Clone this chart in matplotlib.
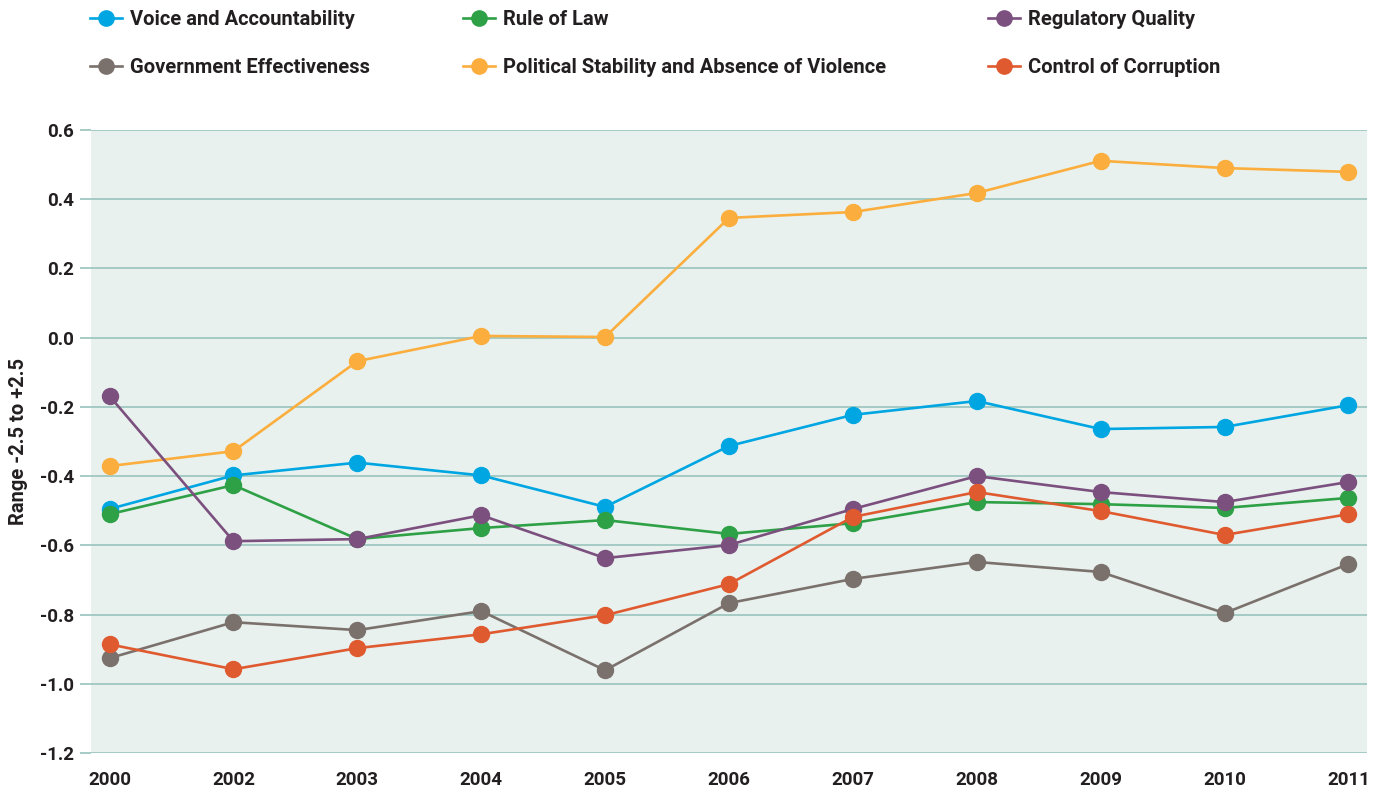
import matplotlib
matplotlib.use('Agg')
import matplotlib.pyplot as plt
from matplotlib.lines import Line2D

years = ['2000', '2002', '2003', '2004', '2005', '2006', '2007', '2008', '2009', '2010', '2011']

voice = [-0.495, -0.398, -0.361, -0.398, -0.489, -0.313, -0.223, -0.183, -0.264, -0.258, -0.195]
rule_of_law = [-0.510, -0.426, -0.582, -0.550, -0.527, -0.567, -0.536, -0.475, -0.481, -0.492, -0.463]
regulatory = [-0.169, -0.588, -0.582, -0.513, -0.637, -0.599, -0.495, -0.400, -0.446, -0.475, -0.417]
government = [-0.926, -0.822, -0.845, -0.790, -0.961, -0.767, -0.697, -0.648, -0.677, -0.796, -0.654]
political = [-0.371, -0.328, -0.068, 0.005, 0.002, 0.346, 0.363, 0.418, 0.511, 0.490, 0.479]
corruption = [-0.886, -0.958, -0.897, -0.857, -0.802, -0.712, -0.518, -0.446, -0.501, -0.570, -0.510]

series = [
    ('Voice and Accountability', voice, '#00a6e2'),
    ('Government Effectiveness', government, '#7b716c'),
    ('Rule of Law', rule_of_law, '#2ea046'),
    ('Political Stability and Absence of Violence', political, '#fbae3d'),
    ('Regulatory Quality', regulatory, '#7b4f7e'),
    ('Control of Corruption', corruption, '#e05a30'),
]
# drawing order (bottom to top)
draw_order = [1, 5, 3, 2, 4, 0]

plt.rcParams['font.family'] = 'Roboto'
plt.rcParams['font.weight'] = 'bold'
text_color = '#231f20'
grid_color = '#9fc8c0'

fig = plt.figure(figsize=(13.81, 7.96), dpi=100)
ax = fig.add_axes([91 / 1381, 1 - 753 / 796, (1367 - 91) / 1381, (753 - 130) / 796])
ax.set_facecolor('#e8f1ee')

x = list(range(len(years)))
for i in draw_order:
    name, vals, col = series[i]
    ax.plot(x, vals, color=col, lw=1.9, marker='o', ms=11.5, label=name, zorder=3 + i * 0.1)

ax.set_xlim(-0.15, len(years) - 1 + 0.15)
ax.set_ylim(-1.2, 0.6)
ax.set_yticks([-1.2, -1.0, -0.8, -0.6, -0.4, -0.2, 0.0, 0.2, 0.4, 0.6])
ax.set_yticklabels([f'{v:.1f}' for v in ax.get_yticks()])
ax.set_xticks(x)
ax.set_xticklabels(years)
ax.yaxis.grid(True, color=grid_color, lw=1.3)
ax.set_axisbelow(True)
for s in ax.spines.values():
    s.set_visible(False)
ax.tick_params(axis='y', length=8, width=1.3, color=grid_color, pad=4, labelsize=13.5, labelcolor=text_color)
ax.tick_params(axis='x', length=0, pad=13, labelsize=13.5, labelcolor=text_color)
ax.set_ylabel('Range -2.5 to +2.5', fontsize=14.5, color=text_color, fontweight='bold', labelpad=9)

# legend in three separate columns
col_x = [76 / 1381, 449 / 1381, 974 / 1381]
for c in range(3):
    hs = []
    for name, vals, col in series[2 * c:2 * c + 2]:
        hs.append(Line2D([0], [0], color=col, lw=1.9, marker='o', ms=11, label=name))
    leg = fig.legend(handles=hs, loc='upper left', bbox_to_anchor=(col_x[c], 1.005), frameon=False,
                     fontsize=14.5, handlelength=1.6, handletextpad=0.4, labelspacing=1.45,
                     borderaxespad=0.3)
    for t in leg.get_texts():
        t.set_color(text_color)

fig.savefig('out.png', dpi=100)
